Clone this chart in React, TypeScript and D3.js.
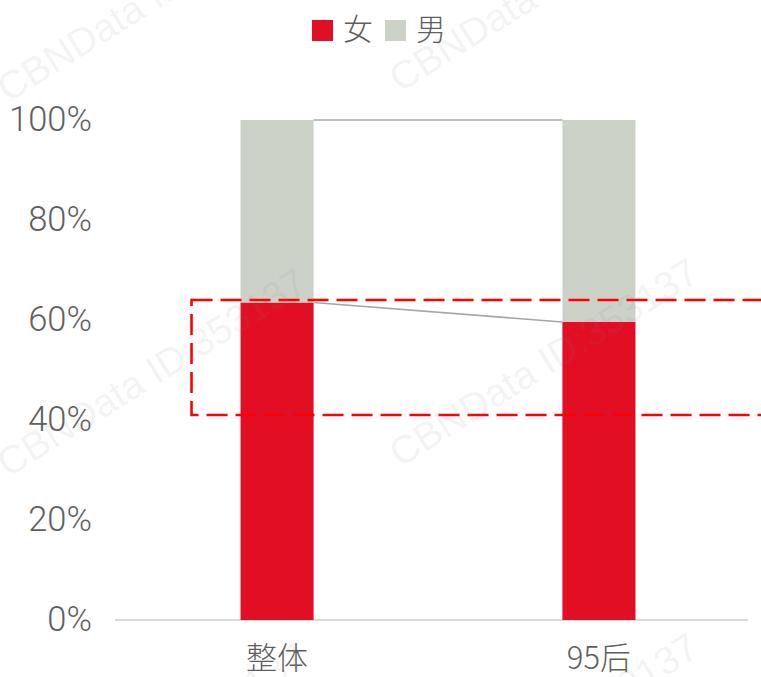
import React from "react";
import * as d3 from "d3";

const categories = ["整体", "95后"];
const femaleValues = [63.5, 59.6];
const maleValues = [36.5, 40.4];
const seriesNames = ["女", "男"];
const yTicks = [0, 20, 40, 60, 80, 100];
const highlightRange = [41, 64];
const watermarkText = "CBNData ID:353137";

const W = 761;
const H = 677;
const RED = "#E20F24";
const GREY = "#CCD2C8";
const TEXT = "#5f5f5f";
const FONT = "Roboto, 'Liberation Sans', 'Noto Sans CJK SC', sans-serif";
const CJK = "'Noto Sans CJK SC', sans-serif";

export default function App() {
  const x = d3.scaleBand<string>().domain(categories).range([115, 761]).paddingInner(0.773).paddingOuter(0.39);
  const y = d3.scaleLinear().domain([0, 100]).range([620, 120]);
  const bw = x.bandwidth();

  const stackData = categories.map((c, i) => ({ cat: c, f: femaleValues[i], m: maleValues[i] }));
  const stack = d3.stack<any>().keys(["f", "m"])(stackData);
  const colors = [RED, GREY];

  const c0 = categories[0];
  const c1 = categories[1];
  const connectors = [
    [
      [x(c0)! + bw, y(femaleValues[0])],
      [x(c1)!, y(femaleValues[1])],
    ],
    [
      [x(c0)! + bw, y(femaleValues[0] + maleValues[0])],
      [x(c1)!, y(femaleValues[1] + maleValues[1])],
    ],
  ];
  const line = d3.line();

  const wmPos = [
    [8, 103],
    [400, 93],
    [8, 478],
    [400, 468],
    [8, 853],
    [400, 843],
  ];

  return (
    <svg width={W} height={H} style={{ position: "absolute", left: 0, top: 0, background: "#fff" }}>
      {/* axis line */}
      <line x1={115} x2={748} y1={y(0)} y2={y(0)} stroke="#d9d9d9" strokeWidth={2} />

      {/* y tick labels */}
      {yTicks.map((t) => (
        <text
          key={t}
          x={92}
          y={y(t) + 11}
          textAnchor="end"
          fontFamily={FONT}
          fontWeight={300}
          fontSize={34.5}
          fill={TEXT}
        >
          {t + "%"}
        </text>
      ))}

      {/* bars */}
      {stack.map((s, si) =>
        s.map((d, i) => (
          <rect
            key={si + "-" + i}
            x={x(d.data.cat)}
            width={bw}
            y={y(d[1])}
            height={y(d[0]) - y(d[1])}
            fill={colors[si]}
          />
        ))
      )}

      {/* connectors */}
      {connectors.map((c, i) => (
        <path key={"c" + i} d={line(c as any)!} stroke="#a6a6a6" strokeWidth={1.6} fill="none" />
      ))}

      {/* highlight dashed rect */}
      <rect
        x={x(c0)! - 49}
        y={y(highlightRange[1])}
        width={700}
        height={y(highlightRange[0]) - y(highlightRange[1])}
        fill="none"
        stroke="#ff0000"
        strokeWidth={2.6}
        strokeDasharray="21 8"
      />

      {/* category labels */}
      {categories.map((c) => (
        <text
          key={c}
          x={x(c)! + bw / 2}
          y={669}
          textAnchor="middle"
          fontFamily={CJK}
          fontWeight={300}
          fontSize={31}
          fill={TEXT}
        >
          {c}
        </text>
      ))}

      {/* legend */}
      <rect x={312} y={20} width={21} height={21} fill={RED} />
      <text x={343} y={40} fontFamily={CJK} fontWeight={300} fontSize={30} fill={TEXT}>
        {seriesNames[0]}
      </text>
      <rect x={385} y={20} width={21} height={21} fill={GREY} />
      <text x={416} y={40} fontFamily={CJK} fontWeight={300} fontSize={30} fill={TEXT}>
        {seriesNames[1]}
      </text>

      {/* watermarks */}
      {wmPos.map((p, i) => (
        <text
          key={"wm" + i}
          transform={`translate(${p[0]},${p[1]}) rotate(-32)`}
          fontFamily="'Liberation Sans', Arial, sans-serif"
          fontSize={39}
          fill="#808080"
          fillOpacity={0.1}
        >
          {watermarkText}
        </text>
      ))}
    </svg>
  );
}
